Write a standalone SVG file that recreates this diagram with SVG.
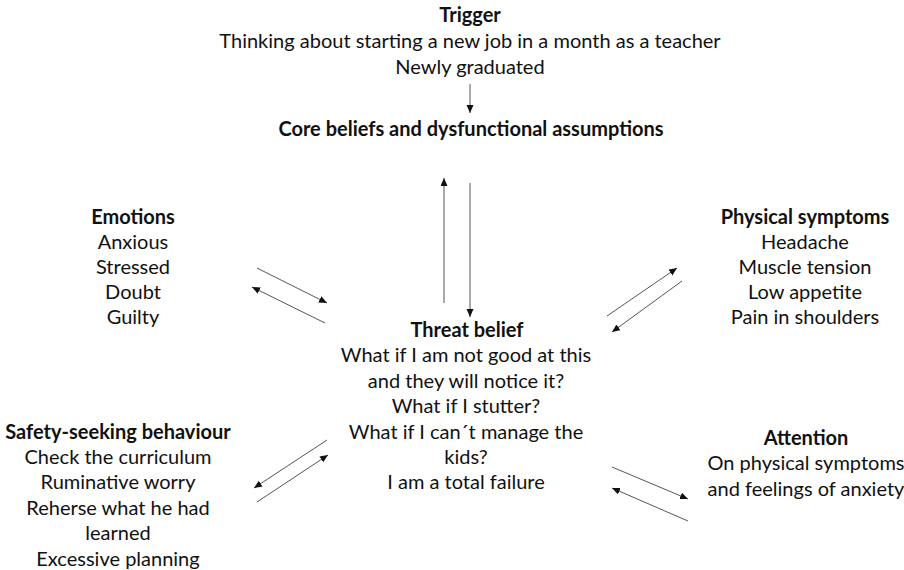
<svg xmlns="http://www.w3.org/2000/svg" width="904" height="570" viewBox="0 0 904 570">
<style>
text{font-family:Lato,"Open Sans","Liberation Sans",sans-serif;font-size:20px;fill:#111;text-anchor:middle}
.b{font-weight:bold}
.c line{stroke:#555;stroke-width:1;marker-end:url(#ah)}
</style>
<defs>
<marker id="ah" markerUnits="userSpaceOnUse" markerWidth="9" markerHeight="8" refX="8" refY="3.5" orient="auto">
<path d="M0,0 L8,3.5 L0,7 z" fill="#111"/>
</marker>
</defs>
<rect width="904" height="570" fill="#fff"/>
<g id="trigger">
<text x="470" y="22" class="b">Trigger</text>
<text x="470" y="48">Thinking about starting a new job in a month as a teacher</text>
<text x="470" y="74">Newly graduated</text>
</g>
<g id="core">
<text x="471" y="136" class="b">Core beliefs and dysfunctional assumptions</text>
</g>
<g id="emotions">
<text x="133" y="224" class="b">Emotions</text>
<text x="133" y="249">Anxious</text>
<text x="133" y="274">Stressed</text>
<text x="133" y="299">Doubt</text>
<text x="133" y="324">Guilty</text>
</g>
<g id="physical">
<text x="805" y="224" class="b">Physical symptoms</text>
<text x="805" y="249">Headache</text>
<text x="805" y="274">Muscle tension</text>
<text x="805" y="299">Low appetite</text>
<text x="805" y="324">Pain in shoulders</text>
</g>
<g id="threat">
<text x="467" y="337" class="b">Threat belief</text>
<text x="466" y="362">What if I am not good at this</text>
<text x="466" y="388">and they will notice it?</text>
<text x="466" y="413">What if I stutter?</text>
<text x="466" y="439">What if I can´t manage the</text>
<text x="466" y="464">kids?</text>
<text x="466" y="489">I am a total failure</text>
</g>
<g id="safety">
<text x="118" y="439" class="b">Safety-seeking behaviour</text>
<text x="118" y="464">Check the curriculum</text>
<text x="118" y="489">Ruminative worry</text>
<text x="118" y="515">Reherse what he had</text>
<text x="118" y="540">learned</text>
<text x="118" y="566">Excessive planning</text>
</g>
<g id="attention">
<text x="806" y="445" class="b">Attention</text>
<text x="806" y="470">On physical symptoms</text>
<text x="806" y="496">and feelings of anxiety</text>
</g>
<g id="connectors" class="c">
<line x1="470" y1="84" x2="470" y2="113"/>
<line x1="444" y1="303" x2="444" y2="178"/>
<line x1="470" y1="183" x2="470" y2="317"/>
<line x1="257" y1="268" x2="327" y2="303"/>
<line x1="325" y1="323" x2="252" y2="287"/>
<line x1="607" y1="316" x2="677" y2="268"/>
<line x1="682" y1="281" x2="612" y2="332"/>
<line x1="327" y1="440" x2="254" y2="488"/>
<line x1="257" y1="502" x2="328" y2="455"/>
<line x1="612" y1="467" x2="688" y2="499"/>
<line x1="688" y1="521" x2="612" y2="488"/>
</g>
</svg>
